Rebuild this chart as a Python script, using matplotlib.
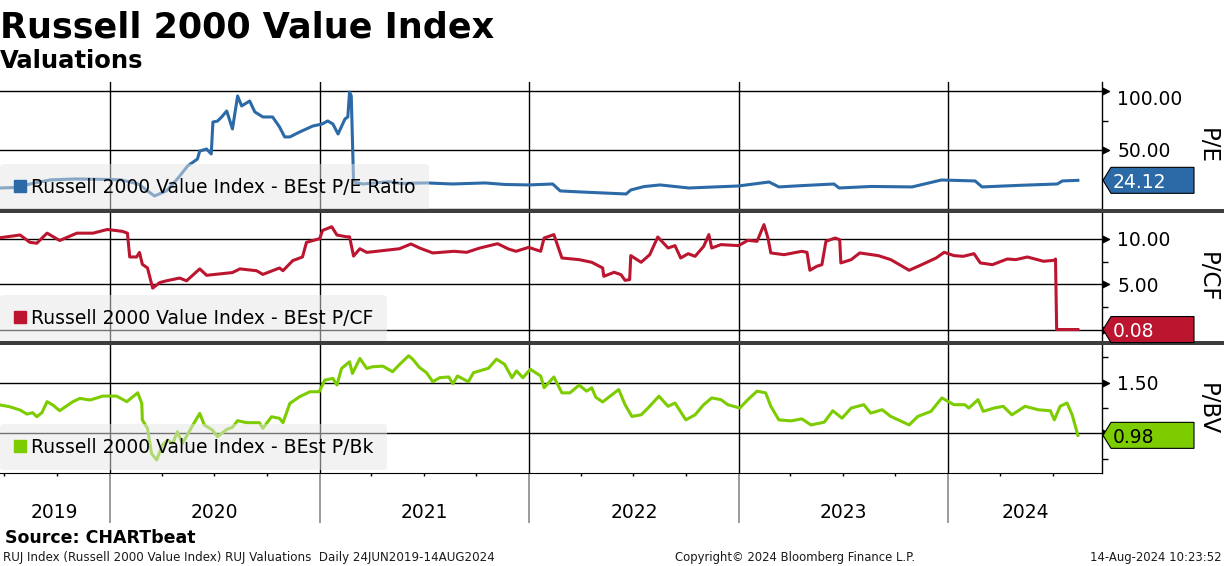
import matplotlib
matplotlib.use("Agg")
import matplotlib.pyplot as plt
import matplotlib.dates as mdates
import matplotlib.transforms as mtransforms
from matplotlib.patches import Polygon, Rectangle
from matplotlib.lines import Line2D
from matplotlib.ticker import FixedLocator, FixedFormatter
import pandas as pd

plt.rcParams['font.family'] = ['DejaVu Sans']

# ---------------- data ----------------
pe_dates = ["2019-06-24", "2019-07-20", "2019-08-20", "2019-09-20", "2019-11-01", "2019-12-15",
            "2020-01-20", "2020-02-20", "2020-03-19", "2020-04-09", "2020-04-28", "2020-05-16",
            "2020-06-02", "2020-06-06", "2020-06-18", "2020-06-26", "2020-06-29", "2020-07-07",
            "2020-07-14", "2020-07-23", "2020-08-02", "2020-08-11", "2020-08-18", "2020-09-01",
            "2020-09-10", "2020-09-24", "2020-10-11", "2020-10-23", "2020-11-01", "2020-11-10",
            "2020-11-27", "2020-12-20", "2021-01-05", "2021-01-15", "2021-01-24", "2021-02-02",
            "2021-02-14", "2021-02-19", "2021-02-22", "2021-02-25", "2021-03-01", "2021-03-17",
            "2021-05-03", "2021-05-21", "2021-07-07", "2021-08-20", "2021-10-16", "2021-11-20",
            "2021-12-31", "2022-02-11",
            "2022-02-24", "2022-04-01", "2022-05-08", "2022-06-19", "2022-06-27", "2022-07-20",
            "2022-08-17", "2022-10-06",
            "2022-12-31", "2023-02-23", "2023-03-12", "2023-04-20", "2023-06-16", "2023-06-25",
            "2023-08-20", "2023-10-30",
            "2023-12-20", "2024-02-17", "2024-02-29", "2024-05-01", "2024-07-09", "2024-07-18",
            "2024-08-14"]
pe_values = [17.6, 18.0, 21.5, 24.5, 25.3, 25.0,
             24.6, 21.0, 10.8, 15.1, 25.3, 36.4,
             42.3, 49.1, 50.8, 46.6, 73.8, 74.6,
             78.0, 83.2, 67.9, 96.0, 87.5, 91.7,
             82.4, 78.1, 78.1, 69.6, 61.1, 61.1,
             65.3, 70.4, 72.1, 74.7, 72.1, 63.6,
             76.4, 78.1, 99.4, 96.0, 22.7, 21.0,
             23.0, 21.5, 21.9, 21.0, 21.9, 20.6,
             20.2, 21.0,
             15.1, 14.2, 13.4, 12.5, 15.9, 18.8,
             20.2, 17.6,
             19.3, 22.7, 18.5, 19.6, 21.0, 17.6,
             18.9, 18.5,
             24.4, 23.6, 18.5, 19.8, 21.0, 23.6,
             24.12]

pcf_dates = ["2019-06-24", "2019-07-29", "2019-08-15", "2019-08-27", "2019-09-14", "2019-10-06",
             "2019-11-05", "2019-12-03", "2019-12-28", "2020-01-23", "2020-02-01", "2020-02-05",
             "2020-02-17", "2020-02-22", "2020-02-27", "2020-03-07", "2020-03-16", "2020-03-28",
             "2020-04-09", "2020-05-02", "2020-05-14", "2020-06-06", "2020-06-18", "2020-08-02",
             "2020-08-15", "2020-09-13", "2020-09-24", "2020-10-23", "2020-10-29", "2020-11-15",
             "2020-12-02", "2020-12-09", "2021-01-01", "2021-01-06", "2021-01-22", "2021-01-31",
             "2021-02-17", "2021-02-22", "2021-03-01", "2021-03-12", "2021-03-24", "2021-05-20",
             "2021-06-09", "2021-06-24", "2021-07-17", "2021-08-23", "2021-09-14", "2021-10-07",
             "2021-11-07", "2021-11-26", "2021-12-09", "2021-12-31", "2022-01-21", "2022-01-27",
             "2022-02-13", "2022-02-18", "2022-02-27", "2022-03-29", "2022-04-20", "2022-05-09",
             "2022-05-11", "2022-05-29", "2022-06-10", "2022-06-17", "2022-06-25", "2022-06-27",
             "2022-07-15", "2022-07-30", "2022-08-13", "2022-08-31", "2022-09-12", "2022-09-22",
             "2022-10-05", "2022-10-17", "2022-11-01", "2022-11-10", "2022-11-15", "2022-12-01",
             "2023-01-01", "2023-01-17", "2023-02-02", "2023-02-14", "2023-02-21", "2023-02-26",
             "2023-03-21", "2023-04-21", "2023-04-30", "2023-05-05", "2023-05-17", "2023-05-26",
             "2023-06-02", "2023-06-18", "2023-06-26", "2023-06-28", "2023-07-16", "2023-07-31",
             "2023-09-01", "2023-09-23", "2023-10-25", "2023-11-16", "2023-12-11", "2023-12-25",
             "2024-01-11", "2024-01-27", "2024-02-15", "2024-02-26", "2024-03-18", "2024-04-13",
             "2024-04-28", "2024-05-18", "2024-06-15", "2024-07-04", "2024-07-06", "2024-07-08",
             "2024-08-14"]
pcf_values = [10.1, 10.4, 9.6, 9.5, 10.6, 9.8,
              10.6, 10.6, 11.0, 10.8, 10.6, 8.0,
              8.0, 8.5, 7.2, 6.8, 4.6, 5.2,
              5.4, 5.7, 5.4, 6.7, 6.0, 6.3,
              6.7, 6.5, 6.1, 6.8, 6.5, 7.6,
              8.0, 9.6, 10.0, 10.9, 11.3, 10.4,
              10.2, 10.2, 8.1, 8.9, 8.5, 8.9,
              9.42, 8.98, 8.44, 8.62, 8.51, 8.98,
              9.45, 8.87, 8.62, 9.05, 8.62, 10.07,
              10.44, 9.53, 7.89, 7.71, 7.42, 6.80,
              5.89, 6.33, 6.07, 5.45, 5.53, 8.15,
              7.42, 8.25, 10.18, 8.98, 9.24, 7.89,
              8.36, 8.07, 9.16, 10.44, 8.98, 9.35,
              9.24, 9.82, 9.71, 11.53, 10.07, 8.44,
              8.25, 8.62, 8.51, 6.55, 6.98, 7.16,
              9.71, 10.07, 9.89, 7.35, 7.71, 8.44,
              8.15, 7.71, 6.55, 7.16, 7.89, 8.51,
              8.15, 8.07, 8.36, 7.35, 7.16, 7.78,
              7.71, 8.0, 7.53, 7.64, 7.78, 0.08,
              0.08]

pbv_dates = ["2019-06-24", "2019-07-11", "2019-07-29", "2019-08-10", "2019-08-20", "2019-08-27",
             "2019-09-05", "2019-09-14", "2019-09-24", "2019-10-06", "2019-10-29", "2019-11-10",
             "2019-11-28", "2019-12-20", "2020-01-13", "2020-01-31", "2020-02-19", "2020-02-26",
             "2020-02-27", "2020-03-07", "2020-03-14", "2020-03-23", "2020-04-02", "2020-04-11",
             "2020-04-20", "2020-04-28", "2020-05-07", "2020-05-25", "2020-06-06", "2020-06-14",
             "2020-06-28", "2020-07-07", "2020-07-23", "2020-08-02", "2020-08-11", "2020-08-27",
             "2020-09-18", "2020-09-24", "2020-10-09", "2020-10-23", "2020-10-29", "2020-11-10",
             "2020-11-27", "2020-12-15", "2020-12-31", "2021-01-10", "2021-01-24", "2021-01-31",
             "2021-02-08", "2021-02-22", "2021-02-27", "2021-03-12", "2021-03-24", "2021-04-03",
             "2021-04-21", "2021-05-08", "2021-05-20", "2021-06-05", "2021-06-12", "2021-06-24",
             "2021-07-06", "2021-07-17", "2021-07-29", "2021-08-14", "2021-08-21", "2021-08-29",
             "2021-09-17", "2021-09-26", "2021-10-22", "2021-11-05", "2021-11-19", "2021-12-02",
             "2021-12-10", "2021-12-21", "2022-01-03", "2022-01-21", "2022-01-27", "2022-02-13",
             "2022-02-27", "2022-03-13", "2022-03-29", "2022-04-11", "2022-04-20", "2022-04-27",
             "2022-05-09", "2022-05-18", "2022-06-06", "2022-06-17", "2022-06-29", "2022-07-15",
             "2022-07-27", "2022-08-15", "2022-08-31", "2022-09-12", "2022-10-01", "2022-10-17",
             "2022-11-01", "2022-11-15", "2022-12-01", "2022-12-13", "2023-01-03", "2023-01-17",
             "2023-02-02", "2023-02-17", "2023-02-26", "2023-03-12", "2023-04-02", "2023-04-21",
             "2023-05-07", "2023-05-30", "2023-06-14", "2023-06-30", "2023-07-16", "2023-08-07",
             "2023-08-19", "2023-09-08", "2023-09-23", "2023-10-25", "2023-11-09", "2023-12-02",
             "2023-12-21", "2024-01-11", "2024-01-30", "2024-02-06", "2024-02-22", "2024-03-02",
             "2024-03-21", "2024-04-06", "2024-04-21", "2024-05-14", "2024-06-06", "2024-06-27",
             "2024-07-04", "2024-07-14", "2024-07-26", "2024-08-04", "2024-08-14"]
pbv_values = [1.28, 1.263, 1.23, 1.19, 1.204, 1.164,
              1.204, 1.313, 1.28, 1.224, 1.313, 1.345,
              1.329, 1.368, 1.368, 1.313, 1.401, 1.296,
              1.132, 1.049, 0.80, 0.737, 0.885, 0.934,
              0.901, 1.016, 0.901, 1.082, 1.197, 1.082,
              1.033, 0.967, 1.039, 1.059, 1.125, 1.105,
              1.105, 1.049, 1.164, 1.148, 1.105, 1.296,
              1.362, 1.411, 1.411, 1.526, 1.543, 1.477,
              1.641, 1.707, 1.592, 1.74, 1.641, 1.658,
              1.664, 1.609, 1.68, 1.767, 1.733, 1.65,
              1.60, 1.51, 1.55, 1.557, 1.49, 1.567,
              1.51, 1.60, 1.643, 1.733, 1.683, 1.55,
              1.617, 1.55, 1.633, 1.567, 1.45, 1.557,
              1.40, 1.40, 1.477, 1.417, 1.45, 1.357,
              1.31, 1.35, 1.433, 1.283, 1.167, 1.183,
              1.25, 1.367, 1.267, 1.30, 1.133, 1.183,
              1.283, 1.35, 1.333, 1.283, 1.25, 1.333,
              1.417, 1.40, 1.267, 1.133, 1.123, 1.143,
              1.083, 1.11, 1.223, 1.15, 1.25, 1.283,
              1.20, 1.233, 1.167, 1.083, 1.167, 1.217,
              1.35, 1.283, 1.283, 1.25, 1.333, 1.217,
              1.25, 1.267, 1.183, 1.267, 1.233, 1.223,
              1.133, 1.267, 1.30, 1.183, 0.98]

series_names = ["Russell 2000 Value Index - BEst P/E Ratio",
                "Russell 2000 Value Index - BEst P/CF",
                "Russell 2000 Value Index - BEst P/Bk"]
axis_titles = ["P/E", "P/CF", "P/BV"]
last_labels = ["24.12", "0.08", "0.98"]
y_major = [[0, 50, 100], [0, 5, 10], [1.0, 1.5]]
y_major_labels = [["", "50.00", "100.00"], ["", "5.00", "10.00"], ["", "1.50"]]
y_arrow = [[50, 100], [0, 5, 10], [1.0, 1.5]]
y_minor = [[25, 75], [2.5, 7.5], [0.75, 1.25, 1.75]]
year_labels = [2019, 2020, 2021, 2022, 2023, 2024]

colors = ["#2b6aa6", "#bb1530", "#7ccc00"]
label_text_colors = ["white", "white", "black"]
ylims = [(-0.3, 107.9), (-1.17, 12.8), (0.608, 1.873)]
x_start = pd.Timestamp("2019-06-24")
x_end = pd.Timestamp("2024-09-25")

# ---------------- figure ----------------
W, H = 1224, 566
fig = plt.figure(figsize=(W / 100, H / 100), dpi=100)
fig.patch.set_facecolor("white")


def fy(px):
    return 1 - px / H


panel_px = [(82, 209), (213, 341), (345, 473)]
right_px = 1102
axes = []
for (top, bot) in panel_px:
    ax = fig.add_axes([0, fy(bot), right_px / W, (bot - top) / H])
    axes.append(ax)

all_dates = [pd.to_datetime(pe_dates), pd.to_datetime(pcf_dates), pd.to_datetime(pbv_dates)]
all_vals = [pe_values, pcf_values, pbv_values]
legend_anchor_y = [-0.012, -0.004, 0.02]

for i, ax in enumerate(axes):
    ax.set_facecolor("none")
    ax.plot(all_dates[i], all_vals[i], color=colors[i], lw=2.2,
            solid_joinstyle="round", zorder=3)
    ax.set_xlim(x_start, x_end)
    ax.set_ylim(*ylims[i])
    ax.xaxis.set_major_locator(mdates.YearLocator())
    ax.xaxis.set_minor_locator(mdates.MonthLocator(bymonth=[1, 4, 7, 10]))
    ax.yaxis.tick_right()
    ax.yaxis.set_major_locator(FixedLocator(y_major[i]))
    ax.yaxis.set_major_formatter(FixedFormatter(y_major_labels[i]))
    ax.yaxis.set_minor_locator(FixedLocator(y_minor[i]))
    ax.tick_params(axis="y", which="major", length=0, pad=11, labelsize=13.5,
                   labelcolor="black")
    ax.tick_params(axis="y", which="minor", length=4, width=1, color="black",
                   direction="out")
    ax.grid(True, which="major", axis="both", color="black", lw=1.0, zorder=1)
    for s in ["top", "left"]:
        ax.spines[s].set_visible(False)
    ax.spines["right"].set_color("black")
    ax.spines["right"].set_linewidth(1.0)
    # arrow heads at major gridline ends
    tr = mtransforms.blended_transform_factory(ax.transAxes, ax.transData)
    ax.plot([1] * len(y_arrow[i]), y_arrow[i], ls="none",
            marker=[(0, -0.5), (1, 0), (0, 0.5)], ms=10, color="black",
            transform=tr, clip_on=False, zorder=4)
    if i < 2:
        ax.spines["bottom"].set_visible(False)
        ax.tick_params(axis="x", which="both", length=0, labelbottom=False)
    else:
        ax.spines["bottom"].set_color("black")
        ax.tick_params(axis="x", which="major", length=36, width=1.2,
                       color="#8a8a8a", labelbottom=False)
        ax.tick_params(axis="x", which="minor", length=2.5, width=1,
                       color="black")
    # legend
    h = Line2D([], [], marker="s", ls="none", color=colors[i], markersize=8)
    leg = ax.legend([h], [series_names[i]], loc="lower left",
                    bbox_to_anchor=(0, legend_anchor_y[i]), borderaxespad=0,
                    fontsize=13.5, frameon=True, fancybox=True, framealpha=0.5,
                    facecolor="#e6e6e6", edgecolor="none", handlelength=0.6,
                    handletextpad=0.3, borderpad=0.74)
    leg.get_frame().set_linewidth(0)
    leg.set_zorder(5)
    # axis title on right
    ax.text(1207 / right_px, 0.5, axis_titles[i], transform=ax.transAxes,
            rotation=270, ha="center", va="center", fontsize=16.5)

# shift top label of first panel slightly down (as in reference)
for lab in axes[0].get_yticklabels():
    if lab.get_text() == "100.00":
        lab.set_transform(lab.get_transform() +
                          mtransforms.ScaledTranslation(0, -6 / 100, fig.dpi_scale_trans))

# year labels centred in each visible year span
for yr in year_labels:
    s = max(x_start, pd.Timestamp(f"{yr}-01-01"))
    e = min(x_end, pd.Timestamp(f"{yr + 1}-01-01"))
    mid = s + (e - s) / 2
    tr = mtransforms.blended_transform_factory(axes[2].transData, fig.transFigure)
    axes[2].text(mid, fy(518), str(yr), transform=tr, ha="center",
                 va="baseline", fontsize=13.5)

# separators between panels
for top in (209, 341):
    fig.add_artist(Rectangle((0, fy(top + 4)), 1, 4 / H, transform=fig.transFigure,
                             facecolor="#3d3d3d", edgecolor="none", zorder=6))

# last value boxes
inv = fig.transFigure.inverted()
for i, ax in enumerate(axes):
    v = all_vals[i][-1]
    xd = ax.transAxes.transform((1, 0))[0]
    yd = ax.transData.transform((0, v))[1]
    pts = [(xd + 1, yd), (xd + 9, yd + 13), (xd + 92, yd + 13),
           (xd + 92, yd - 13), (xd + 9, yd - 13)]
    poly = Polygon(inv.transform(pts), closed=True, transform=fig.transFigure,
                   facecolor=colors[i], edgecolor="black", lw=0.8, zorder=10)
    fig.add_artist(poly)
    tx, ty = inv.transform((xd + 11, yd))
    fig.text(tx, ty, last_labels[i], ha="left", va="center_baseline",
             fontsize=13.5, color=label_text_colors[i], zorder=11)

# titles
fig.text(0, fy(37), "Russell 2000 Value Index", fontsize=25.2, fontweight="bold",
         ha="left", va="baseline")
fig.text(0, fy(68), "Valuations", fontsize=17.5, fontweight="bold",
         ha="left", va="baseline")

# footer
fig.text(5 / W, fy(543), "Source: CHARTbeat", fontsize=12.5, fontweight="bold",
         ha="left", va="baseline")
fig.text(3 / W, fy(561), "RUJ Index (Russell 2000 Value Index) RUJ Valuations  Daily 24JUN2019-14AUG2024",
         fontsize=8.6, ha="left", va="baseline", color="#1a1a1a")
fig.text(795 / W, fy(561), "Copyright© 2024 Bloomberg Finance L.P.", fontsize=8.4,
         ha="center", va="baseline", color="#1a1a1a")
fig.text(1221 / W, fy(561), "14-Aug-2024 10:23:52", fontsize=8.4, ha="right",
         va="baseline", color="#1a1a1a")

fig.savefig("out.png", dpi=100, facecolor="white")
